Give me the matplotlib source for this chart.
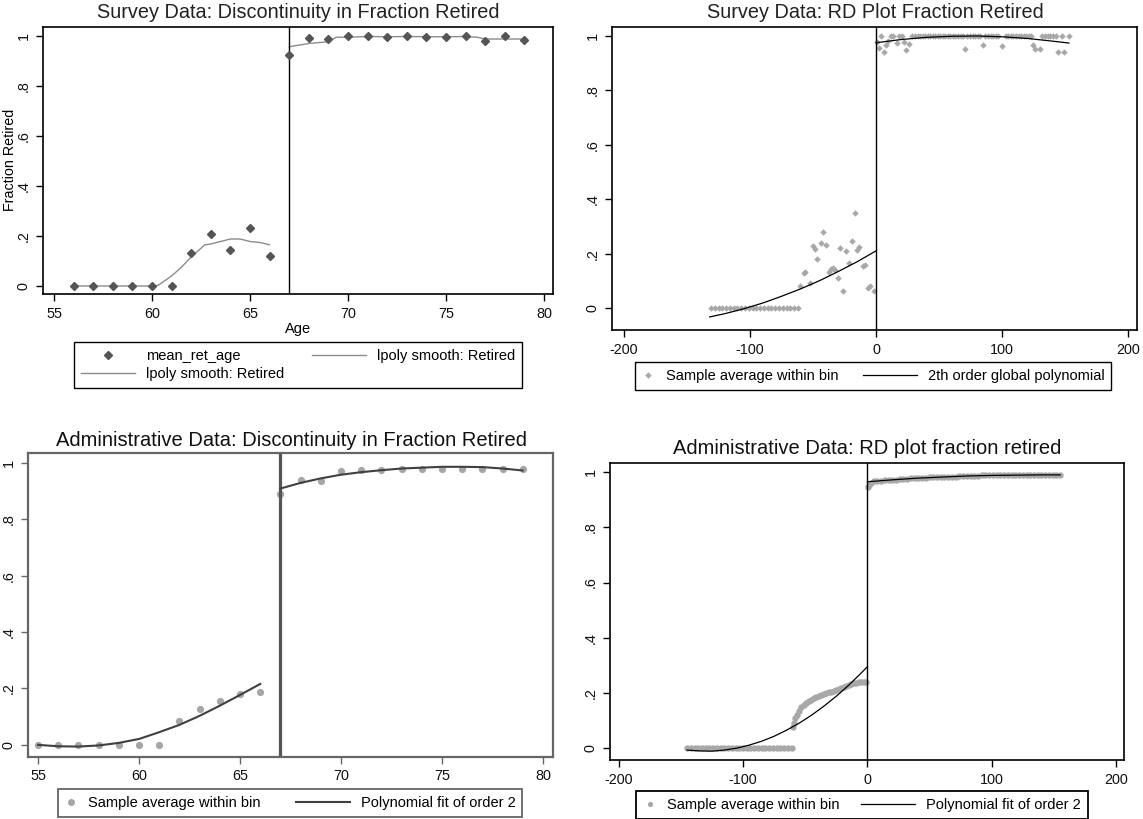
import matplotlib.pyplot as plt
from matplotlib.lines import Line2D
from matplotlib.legend_handler import HandlerLine2D

plt.rcParams["font.family"] = ["Liberation Sans", "DejaVu Sans"]
plt.rcParams["axes.unicode_minus"] = False

# ---- survey data: fraction retired by age ----
survey_age = [56, 57, 58, 59, 60, 61, 62, 63, 64, 65, 66, 67,
              68, 69, 70, 71, 72, 73, 74, 75, 76, 77, 78, 79]
survey_ret = [0, 0, 0, 0, 0, 0, 0.131, 0.21, 0.146, 0.233, 0.122, 0.924,
              0.992, 0.987, 1.0, 1.0, 0.997, 1.0, 0.997, 0.997, 1.0, 0.979, 1.0, 0.983]

lpoly_left_x = [56, 57, 58, 59, 60, 60.3, 61, 61.5, 62, 62.7, 63, 63.5, 64, 64.5, 65, 65.5, 66]
lpoly_left_y = [0, 0, 0, 0, 0, 0.002, 0.04, 0.075, 0.116, 0.165, 0.168, 0.178, 0.188,
                0.188, 0.178, 0.174, 0.165]
lpoly_right_x = [67, 68, 69, 69.4, 70, 71, 72, 73, 74, 75, 76, 76.6, 77, 78, 79]
lpoly_right_y = [0.957, 0.97, 0.977, 0.995, 0.995, 0.998, 0.997, 0.998, 0.997, 0.997,
                 0.998, 0.995, 0.988, 0.988, 0.988]

# ---- survey data: RD plot, days from cutoff ----
srd_left_x = [-131, -128, -125, -122, -119, -116, -113, -110, -107, -104, -101, -98,
              -95, -92, -89, -86, -83, -80, -77, -74, -71, -68, -65, -62,
              -60.1, -57.4, -56.1, -52.1, -50.3, -48.4, -46.8, -43.9, -42.1, -39.9,
              -37.6, -35.4, -33.9, -32.3, -30.4, -28.6, -26.5, -23.8, -21.7, -19.0,
              -16.7, -15.3, -13.5, -10.6, -8.7, -6.3, -4.8, -1.6]
srd_left_y = [0, 0, 0, 0, 0, 0, 0, 0, 0, 0, 0, 0,
              0, 0, 0, 0, 0, 0, 0, 0, 0, 0, 0, 0,
              0.079, 0.127, 0.133, 0.091, 0.227, 0.218, 0.181, 0.24, 0.28, 0.233,
              0.133, 0.142, 0.147, 0.141, 0.109, 0.219, 0.061, 0.21, 0.164, 0.246,
              0.35, 0.213, 0.225, 0.153, 0.158, 0.074, 0.082, 0.061]
srd_right_x = [0.5, 2.2, 4.2, 6.2, 7.6, 9.3, 11.6, 13.6, 16.5, 18.5, 20.2, 22.2,
               24.0, 26.0, 28.6, 31, 33, 35, 37, 39, 41, 43, 45, 47,
               49, 51, 53, 55, 57, 59, 61, 63, 65, 67, 69, 70.2,
               72.3, 74.5, 76.5, 78.5, 80.5, 82.5, 84.8, 86.8, 89, 91, 93, 95,
               97, 99.9, 102.8, 105, 107, 109, 111, 113, 115, 117, 119, 121,
               123.2, 124.6, 126.0, 130.4, 132, 134, 136, 138, 140, 142.5, 144.2, 147.7,
               149.2, 153]
srd_right_y = [0.979, 0.955, 1.0, 0.94, 0.967, 0.982, 1.0, 1.0, 0.975, 1.0, 1.0, 0.977,
               0.947, 0.971, 1.0, 1.0, 1.0, 1.0, 1.0, 1.0, 1.0, 1.0, 1.0, 1.0,
               1.0, 1.0, 1.0, 1.0, 1.0, 1.0, 1.0, 1.0, 1.0, 1.0, 1.0, 0.951,
               1.0, 1.0, 1.0, 1.0, 1.0, 1.0, 0.967, 1.0, 1.0, 1.0, 1.0, 1.0,
               1.0, 0.963, 1.0, 1.0, 1.0, 1.0, 1.0, 1.0, 1.0, 1.0, 1.0, 1.0,
               1.0, 0.967, 0.951, 0.951, 1.0, 1.0, 1.0, 1.0, 1.0, 1.0, 0.94, 1.0,
               0.94, 1.0]
sfit_left_x = [-132, -120, -105, -90, -75, -60, -45, -30, -15, 0]
sfit_left_y = [-0.033, -0.021, -0.003, 0.018, 0.043, 0.070, 0.100, 0.134, 0.170, 0.21]
sfit_right_x = [0, 20, 40, 60, 80, 100, 120, 140, 153]
sfit_right_y = [0.975, 0.987, 0.995, 0.999, 1.0, 0.997, 0.991, 0.981, 0.974]

# ---- administrative data: fraction retired by age ----
admin_age = [55, 56, 57, 58, 59, 60, 61, 62, 63, 64, 65, 66, 67,
             68, 69, 70, 71, 72, 73, 74, 75, 76, 77, 78, 79]
admin_ret = [0, 0, 0, 0, 0, 0, 0, 0.084, 0.126, 0.157, 0.179, 0.189, 0.89,
             0.939, 0.934, 0.971, 0.974, 0.974, 0.978, 0.98, 0.978, 0.98, 0.978, 0.98, 0.98]
afit_left_x = [55, 56, 57, 58, 59, 60, 61, 62, 63, 64, 65, 66]
afit_left_y = [0, -0.005, -0.006, -0.002, 0.007, 0.021, 0.045, 0.071, 0.103, 0.139, 0.177, 0.216]
afit_right_x = [67, 68, 69, 70, 71, 72, 73, 74, 75, 76, 77, 78, 79]
afit_right_y = [0.909, 0.929, 0.945, 0.958, 0.967, 0.974, 0.98, 0.983, 0.986, 0.986,
                0.985, 0.98, 0.973]

# ---- administrative data: RD plot ----
ard_left_x = [-145, -142, -139, -136, -133, -130, -127, -124, -121, -118, -115, -112,
              -109, -106, -103, -100, -97, -94, -91, -88, -85, -82, -79, -76,
              -73, -70, -67, -64, -61,
              -60, -59, -58, -57, -55, -53, -51, -49, -47, -45, -43, -41,
              -39, -37, -35, -33, -31, -29, -27, -25, -23, -21, -19, -17,
              -15, -13, -11, -9, -7, -5, -3, -1]
ard_left_y = [0] * 29 + [
              0.075, 0.09, 0.11, 0.12, 0.135, 0.148, 0.158, 0.165, 0.171, 0.176, 0.181, 0.186,
              0.19, 0.193, 0.196, 0.199, 0.202, 0.204, 0.206, 0.209, 0.213, 0.217, 0.221, 0.225,
              0.228, 0.232, 0.235, 0.237, 0.238, 0.238, 0.239, 0.238]
ard_right_x = [0.5, 1.5, 3, 5, 8, 11, 14, 17, 20, 23, 26, 29, 32, 35, 38, 41, 44, 47,
               50, 53, 56, 59, 62, 65, 68, 71, 74, 77, 80, 83, 86, 89, 92, 95, 98, 101,
               104, 107, 110, 113, 116, 119, 122, 125, 128, 131, 134, 137, 140, 143, 146,
               149, 152, 155]
ard_right_y = [0.945, 0.955, 0.962, 0.967, 0.968, 0.969, 0.97, 0.971, 0.972, 0.973,
               0.974, 0.975, 0.976, 0.977, 0.978, 0.979, 0.979, 0.98, 0.981, 0.981,
               0.982, 0.982, 0.983, 0.983, 0.984, 0.984, 0.985, 0.985, 0.986, 0.986,
               0.987, 0.987, 0.988, 0.988, 0.988, 0.989, 0.989, 0.989, 0.989] + [0.99] * 15
afit4_left_x = [-145, -135, -125, -115, -105, -95, -85, -75, -65, -55, -45, -35, -25, -15, -5, 0]
afit4_left_y = [-0.007, -0.010, -0.011, -0.007, 0.0, 0.011, 0.025, 0.043, 0.065, 0.090,
                0.119, 0.152, 0.188, 0.228, 0.272, 0.295]
afit4_right_x = [0, 20, 40, 60, 80, 100, 120, 140, 155]
afit4_right_y = [0.965, 0.972, 0.978, 0.982, 0.986, 0.988, 0.989, 0.99, 0.99]

yticks = [0, 0.2, 0.4, 0.6, 0.8, 1]
ytick_labels = ["0", ".2", ".4", ".6", ".8", "1"]
age_ticks = [55, 60, 65, 70, 75, 80]
rd_ticks = [-200, -100, 0, 100, 200]


class ShortKey(HandlerLine2D):
    # marker keys in Stata legends are narrower than line keys
    def legend_artist(self, legend, orig_handle, fontsize, handlebox):
        handlebox.width = 0.9 * fontsize
        return super().legend_artist(legend, orig_handle, fontsize, handlebox)


def style_axes(ax, xlim, ylim, xticks, color="black", lw=1.2):
    ax.set_xlim(*xlim)
    ax.set_ylim(*ylim)
    ax.set_xticks(xticks)
    ax.set_xticklabels([str(t) for t in xticks])
    ax.set_yticks(yticks)
    ax.set_yticklabels(ytick_labels, rotation=90, va="center")
    for s in ax.spines.values():
        s.set_color(color)
        s.set_linewidth(lw)
    ax.tick_params(direction="out", length=5, width=1, color=color,
                   labelsize=10.4, pad=4, labelcolor="#111111")


fig = plt.figure(figsize=(11.43, 8.19), dpi=100)
W, H = 1143, 819


def add_ax(left, top, right, bottom):
    return fig.add_axes([left / W, 1 - bottom / H, (right - left) / W, (bottom - top) / H])


leg_kw = dict(loc="center", frameon=True, fancybox=False, edgecolor="black",
              framealpha=1, fontsize=10.5, handlelength=3.7, handletextpad=0.75,
              borderpad=0.45, numpoints=1)

# panel 1
ax1 = add_ax(43, 27, 553, 294)
ax1.plot(survey_age, survey_ret, "D", color="#555555", ms=4.3, zorder=3)
ax1.plot(lpoly_left_x, lpoly_left_y, color="#8c8c8c", lw=1)
ax1.plot(lpoly_right_x, lpoly_right_y, color="#8c8c8c", lw=1)
ax1.axvline(67, color="black", lw=1)
style_axes(ax1, (54.44, 80.46), (-0.032, 1.036), age_ticks)
ax1.set_xlabel("Age", fontsize=10.5, labelpad=1)
fig.text(10 / W, 1 - 160 / H, "Fraction Retired", rotation=90,
         ha="center", va="center", fontsize=10.3)
fig.text(298 / W, 1 - 13 / H, "Survey Data: Discontinuity in Fraction Retired",
         ha="center", va="center", fontsize=14.3, color="#222222")
h_mark = Line2D([], [], ls="none", marker="D", color="#555555", ms=4.3)
h_line = Line2D([], [], color="#8c8c8c", lw=1)
leg1 = fig.legend([h_mark, h_line, h_line],
                  ["mean_ret_age", "lpoly smooth: Retired", "lpoly smooth: Retired"],
                  bbox_to_anchor=(298 / W, 1 - 365 / H), ncol=2, columnspacing=1.9,
                  labelspacing=0.3, **leg_kw)
leg1.get_frame().set_linewidth(1.0)

# panel 2
ax2 = add_ax(612, 27, 1137, 330)
ax2.plot(srd_left_x, srd_left_y, "D", color="#a8a8a8", ms=3.3, mew=0)
ax2.plot(srd_right_x, srd_right_y, "D", color="#a8a8a8", ms=3.3, mew=0)
ax2.plot(sfit_left_x, sfit_left_y, color="black", lw=0.9)
ax2.plot(sfit_right_x, sfit_right_y, color="black", lw=0.9)
ax2.axvline(0, color="black", lw=1)
style_axes(ax2, (-209.5, 207), (-0.081, 1.033), rd_ticks)
fig.text(875 / W, 1 - 13 / H, "Survey Data: RD Plot Fraction Retired",
         ha="center", va="center", fontsize=14.3, color="#222222")
h_mark2 = Line2D([], [], ls="none", marker="D", color="#a8a8a8", ms=3.3, mew=0)
h_line2 = Line2D([], [], color="black", lw=0.9)
leg2 = fig.legend([h_mark2, h_line2],
                  ["Sample average within bin", "2th order global polynomial"],
                  bbox_to_anchor=(873 / W, 1 - 376 / H), ncol=2, columnspacing=1.7,
                  handler_map={h_mark2: ShortKey()}, **leg_kw)
leg2.get_frame().set_linewidth(1.0)

# panel 3
ax3 = add_ax(28, 453, 553, 757)
ax3.plot(admin_age, admin_ret, "o", color="#a6a6a6", ms=5.2, mew=0, zorder=2)
ax3.plot(afit_left_x, afit_left_y, color="#404040", lw=1.5, zorder=3)
ax3.plot(afit_right_x, afit_right_y, color="#404040", lw=1.5, zorder=3)
ax3.axvline(67, color="#555555", lw=2.3)
style_axes(ax3, (54.5, 80.5), (-0.043, 1.035), age_ticks, color="#666666", lw=1.6)
fig.text(291 / W, 1 - 440 / H, "Administrative Data: Discontinuity in Fraction Retired",
         ha="center", va="center", fontsize=14.5, color="#111111")
h_mark3 = Line2D([], [], ls="none", marker="o", color="#a6a6a6", ms=5, mew=0)
h_line3 = Line2D([], [], color="#404040", lw=1.5)
leg3 = fig.legend([h_mark3, h_line3],
                  ["Sample average within bin", "Polynomial fit of order 2"],
                  bbox_to_anchor=(290 / W, 1 - 803 / H), ncol=2, columnspacing=2.4,
                  handler_map={h_mark3: ShortKey()}, **leg_kw)
leg3.get_frame().set_linewidth(1.3)
leg3.get_frame().set_edgecolor("#666666")

# panel 4
ax4 = add_ax(610, 463, 1124, 760)
ax4.plot(ard_left_x, ard_left_y, "o", color="#a8a8a8", ms=4.6, mew=0)
ax4.plot(ard_right_x, ard_right_y, "o", color="#a8a8a8", ms=4.6, mew=0)
ax4.plot(afit4_left_x, afit4_left_y, color="black", lw=0.9)
ax4.plot(afit4_right_x, afit4_right_y, color="black", lw=0.9)
ax4.axvline(0, color="black", lw=1)
style_axes(ax4, (-207, 206.4), (-0.043, 1.033), rd_ticks)
fig.text(867 / W, 1 - 448 / H, "Administrative Data: RD plot fraction retired",
         ha="center", va="center", fontsize=14.5, color="#111111")
h_mark4 = Line2D([], [], ls="none", marker="o", color="#a8a8a8", ms=3.8, mew=0)
h_line4 = Line2D([], [], color="black", lw=0.9)
leg4 = fig.legend([h_mark4, h_line4],
                  ["Sample average within bin", "Polynomial fit of order 2"],
                  bbox_to_anchor=(862 / W, 1 - 805 / H), ncol=2, columnspacing=1.5,
                  handler_map={h_mark4: ShortKey()}, **leg_kw)
leg4.get_frame().set_linewidth(1.3)

fig.savefig("out.png", dpi=100)
